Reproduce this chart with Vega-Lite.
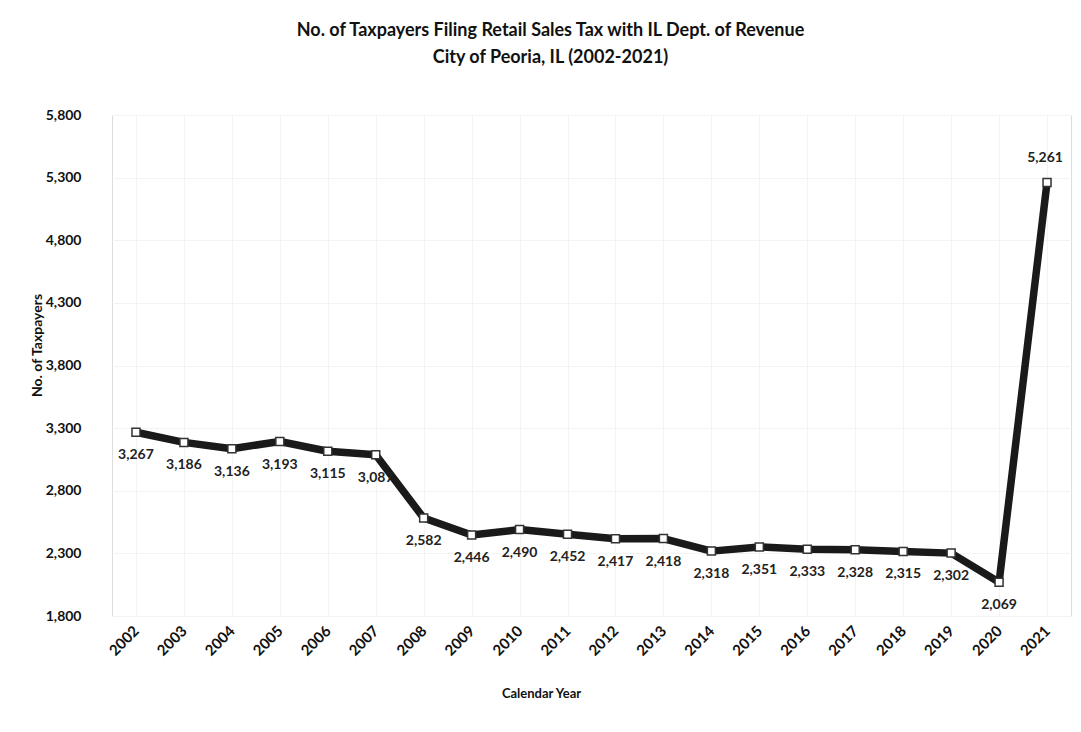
{
  "$schema": "https://vega.github.io/schema/vega-lite/v6.json",
  "autosize": {"type": "none"},
  "width": 959,
  "height": 501,
  "padding": {"left": 112, "top": 115, "right": 10, "bottom": 116},
  "background": "white",
  "title": {
    "text": ["No. of Taxpayers Filing Retail Sales Tax with IL Dept. of Revenue", "City of Peoria, IL (2002-2021)"],
    "font": "Lato",
    "fontSize": 18,
    "fontWeight": "bold",
    "color": "#111111",
    "anchor": "middle",
    "dx": -41,
    "offset": 41,
    "lineHeight": 27
  },
  "data": {
    "values": [
      {"year": "2002", "taxpayers": 3267},
      {"year": "2003", "taxpayers": 3186},
      {"year": "2004", "taxpayers": 3136},
      {"year": "2005", "taxpayers": 3193},
      {"year": "2006", "taxpayers": 3115},
      {"year": "2007", "taxpayers": 3087},
      {"year": "2008", "taxpayers": 2582},
      {"year": "2009", "taxpayers": 2446},
      {"year": "2010", "taxpayers": 2490},
      {"year": "2011", "taxpayers": 2452},
      {"year": "2012", "taxpayers": 2417},
      {"year": "2013", "taxpayers": 2418},
      {"year": "2014", "taxpayers": 2318},
      {"year": "2015", "taxpayers": 2351},
      {"year": "2016", "taxpayers": 2333},
      {"year": "2017", "taxpayers": 2328},
      {"year": "2018", "taxpayers": 2315},
      {"year": "2019", "taxpayers": 2302},
      {"year": "2020", "taxpayers": 2069},
      {"year": "2021", "taxpayers": 5261}
    ]
  },
  "encoding": {
    "x": {
      "field": "year",
      "type": "ordinal",
      "scale": {"type": "point", "padding": 0.5},
      "axis": {
        "title": "Calendar Year",
        "titleFont": "Lato",
        "titleFontSize": 13,
        "titleFontWeight": "bold",
        "titleColor": "#111111",
        "titleX": 429,
        "titleY": 77,
        "titleBaseline": "middle",
        "labelAngle": -45,
        "labelAlign": "right",
        "labelBaseline": "middle",
        "labelFont": "Lato",
        "labelFontSize": 15,
        "labelFontWeight": "bold",
        "labelColor": "#111111",
        "labelPadding": 12,
        "ticks": false,
        "domain": false,
        "grid": true,
        "gridColor": "#f3f3f3"
      }
    },
    "y": {
      "field": "taxpayers",
      "type": "quantitative",
      "scale": {"domain": [1800, 5800], "nice": false, "zero": false},
      "axis": {
        "title": "No. of Taxpayers",
        "titleFont": "Lato",
        "titleFontSize": 14,
        "titleFontWeight": "bold",
        "titleColor": "#111111",
        "titleX": -75,
        "titleY": 230,
        "titleAngle": -90,
        "titleBaseline": "middle",
        "values": [1800, 2300, 2800, 3300, 3800, 4300, 4800, 5300, 5800],
        "format": ",.0f",
        "labelFont": "Lato",
        "labelFontSize": 14,
        "labelFontWeight": "bold",
        "labelColor": "#111111",
        "labelPadding": 31,
        "ticks": false,
        "domain": false,
        "grid": true,
        "gridColor": "#f3f3f3"
      }
    }
  },
  "layer": [
    {
      "mark": {"type": "line", "color": "#1a1a1a", "strokeWidth": 7.5, "strokeJoin": "round"},
      "encoding": {}
    },
    {
      "mark": {"type": "point", "shape": "square", "filled": true, "fill": "white", "stroke": "#333333", "strokeWidth": 1.5, "size": 64, "opacity": 1}
    },
    {
      "transform": [{"filter": "datum.year != '2021'"}],
      "mark": {"type": "text", "dy": 23, "font": "Lato", "fontSize": 14, "fontWeight": "bold", "color": "#222222"},
      "encoding": {"text": {"field": "taxpayers", "type": "quantitative", "format": ",.0f"}}
    },
    {
      "transform": [{"filter": "datum.year == '2021'"}],
      "mark": {"type": "text", "dy": -25, "dx": -2, "font": "Lato", "fontSize": 14, "fontWeight": "bold", "color": "#222222"},
      "encoding": {"text": {"field": "taxpayers", "type": "quantitative", "format": ",.0f"}}
    }
  ]
}
